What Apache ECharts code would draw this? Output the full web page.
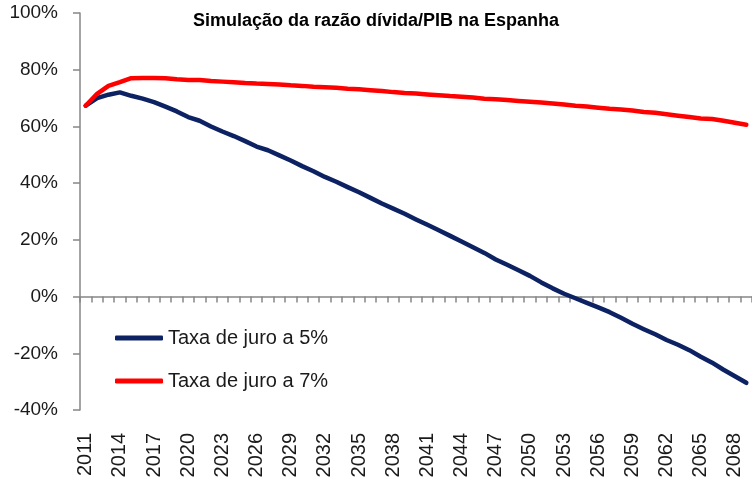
<!DOCTYPE html>
<html>
<head>
<meta charset="utf-8">
<script src="https://cdn.jsdelivr.net/npm/echarts@6/dist/echarts.min.js"></script>
<style>
  html, body { margin: 0; padding: 0; background: #fff; }
  #chart { width: 752px; height: 482px; }
</style>
</head>
<body>
<div id="chart"></div>
<script>
// anos 2011 .. 2069
const years = []
for (let y = 2011; y <= 2069; y++) years.push(String(y))

// razão dívida/PIB (%) com taxa de juro a 5%
const taxa5 = [
  67.3, 70.0, 71.2, 72.0, 70.8, 69.8, 68.6, 67.0, 65.3, 63.3,
  62.0, 60.0, 58.2, 56.6, 54.8, 52.9, 51.6, 49.8, 48.0, 46.0,
  44.2, 42.2, 40.5, 38.6, 36.8, 34.8, 32.8, 31.0, 29.2, 27.2,
  25.3, 23.4, 21.4, 19.4, 17.4, 15.4, 13.1, 11.2, 9.3, 7.3,
  5.0, 2.9, 1.0, -0.6, -2.2, -3.8, -5.5, -7.5, -9.6, -11.5,
  -13.3, -15.3, -17.0, -18.9, -21.2, -23.3, -25.8, -28.1, -30.4
]

// razão dívida/PIB (%) com taxa de juro a 7%
const taxa7 = [
  67.3, 71.5, 74.3, 75.6, 77.0, 77.1, 77.1, 77.0, 76.6, 76.4,
  76.4, 76.0, 75.8, 75.6, 75.3, 75.1, 75.0, 74.8, 74.5, 74.3,
  74.0, 73.8, 73.6, 73.3, 73.1, 72.8, 72.5, 72.1, 71.8, 71.6,
  71.3, 71.0, 70.7, 70.5, 70.2, 69.8, 69.6, 69.3, 69.0, 68.7,
  68.4, 68.1, 67.7, 67.3, 67.0, 66.6, 66.2, 66.0, 65.6, 65.1,
  64.8, 64.3, 63.8, 63.3, 62.8, 62.6, 62.0, 61.3, 60.6
]

const seriesNames = ['Taxa de juro a 5%', 'Taxa de juro a 7%']
const axisGrey = '#868686'
const font = 'Liberation Sans, Arial, sans-serif'

const chart = echarts.init(document.getElementById('chart'))

chart.setOption({
  animation: false,
  backgroundColor: '#fff',
  title: {
    text: 'Simulação da razão dívida/PIB na Espanha',
    left: 371,
    textAlign: 'center',
    top: 7,
    textStyle: {
      fontFamily: font,
      fontSize: 18,
      fontWeight: 'bold',
      color: '#000'
    }
  },
  legend: {
    data: seriesNames,
    orient: 'vertical',
    left: 110,
    top: 323,
    icon: 'roundRect',
    itemWidth: 48,
    itemHeight: 5,
    itemGap: 23,
    textStyle: {
      fontFamily: font,
      fontSize: 20,
      color: '#1a1a1a'
    }
  },
  grid: {
    left: 80,
    right: 0,
    top: 13,
    bottom: 72
  },
  xAxis: [
    {
      type: 'category',
      data: years,
      boundaryGap: true,
      axisLine: { show: true, onZero: true, lineStyle: { color: axisGrey, width: 1.5 } },
      axisTick: { show: true, inside: false, interval: 0, alignWithLabel: false, length: 6, lineStyle: { color: axisGrey, width: 1.5 } },
      axisLabel: { show: false }
    },
    {
      type: 'category',
      data: years,
      boundaryGap: true,
      position: 'bottom',
      axisLine: { show: false, onZero: false },
      axisTick: { show: false },
      axisLabel: {
        interval: 2,
        rotate: 90,
        margin: 23,
        fontFamily: font,
        fontSize: 20,
        color: '#1a1a1a'
      }
    }
  ],
  yAxis: {
    type: 'value',
    min: -40,
    max: 100,
    interval: 20,
    axisLine: { show: true, onZero: false, lineStyle: { color: axisGrey, width: 1.5 } },
    axisTick: { show: true, inside: false, length: 7, lineStyle: { color: axisGrey, width: 1.5 } },
    splitLine: { show: false },
    axisLabel: {
      formatter: '{value}%',
      margin: 22,
      fontFamily: font,
      fontSize: 19,
      color: '#1a1a1a'
    }
  },
  series: [
    {
      name: seriesNames[0],
      type: 'line',
      xAxisIndex: 0,
      data: taxa5,
      symbol: 'none',
      itemStyle: { color: '#0C2262' },
      lineStyle: { width: 4.5, color: '#0C2262', cap: 'round', join: 'round' }
    },
    {
      name: seriesNames[1],
      type: 'line',
      xAxisIndex: 0,
      data: taxa7,
      symbol: 'none',
      itemStyle: { color: '#FF0000' },
      lineStyle: { width: 4.5, color: '#FF0000', cap: 'round', join: 'round' }
    }
  ]
})
</script>
</body>
</html>
